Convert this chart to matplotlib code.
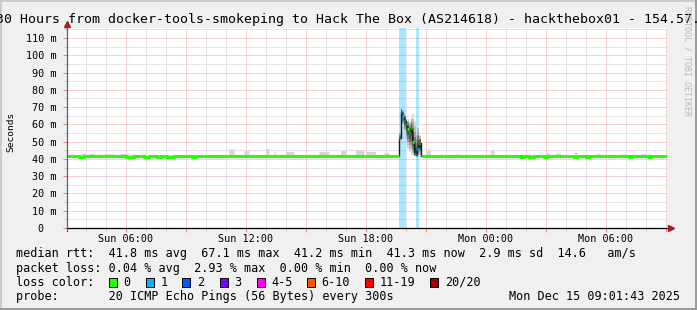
import numpy as np
import matplotlib

matplotlib.use('Agg')
import matplotlib.pyplot as plt
from matplotlib.patches import Rectangle
from matplotlib.ticker import MultipleLocator, FuncFormatter
from matplotlib.transforms import ScaledTranslation

MONO = 'DejaVu Sans Mono'
W, H = 697, 310

# Time axis: hours counted from Sun 00:00, one sample every 5 minutes
STEP = 5 / 60
FIRST_SAMPLE = 3.0
N_SAMPLES = 362
VIEW = (3.07, 33.07)

# Median rtt (ms) outside the incident, and the thin smoke band around it
baseline_rtt = 41.5
baseline_smoke_lo = 41.1
baseline_smoke_hi = 42.6

# Short dips of the median rtt
dip_start = [3.65, 6.0, 6.85, 7.55, 8.05, 9.3, 25.75, 26.15, 26.9, 28.4, 28.95, 31.1, 32.1]
dip_end = [3.9, 6.35, 7.1, 7.7, 8.4, 9.45, 25.9, 26.4, 27.05, 28.55, 29.1, 31.2, 32.2]
dip_rtt = [40.9, 40.9, 40.9, 40.9, 40.9, 40.9, 40.9, 40.9, 40.9, 40.9, 40.9, 40.9, 40.9]

# Smoke peaks above the median (slowest ping in those periods)
peak_start = [3.75, 4.15, 4.6, 4.85, 5.75, 11.15, 11.9, 13.0, 13.35, 14.0, 15.65, 16.75,
              17.5, 18.0, 18.9, 21.0, 22.5, 24.25, 27.0, 27.5, 28.35, 29.5, 30.75, 31.75]
peak_end = [4.0, 4.35, 4.75, 5.4, 6.15, 11.35, 12.1, 13.15, 13.5, 14.35, 16.1, 17.0,
            17.85, 18.5, 19.15, 21.25, 22.6, 24.4, 27.15, 27.75, 28.55, 29.75, 31.0, 32.0]
peak_top = [43.4, 43.2, 42.9, 43.0, 43.2, 45.7, 44.8, 46.0, 44.0, 44.2, 44.3, 44.8,
            45.3, 44.3, 43.8, 45.0, 42.9, 45.0, 43.6, 43.4, 43.9, 43.0, 42.9, 43.0]

# Incident on Sunday evening, 5 minute samples starting at 19:35
spike_start = 19 + 35 / 60
spike_rtt = [41.5, 52.0, 67.1, 65.0, 62.0, 60.0, 57.5, 55.5, 58.0, 50.0, 43.0, 42.0, 46.0, 49.0, 41.5]
spike_loss = [0, 1, 1, 1, 1, 0, 0, 0, 0, 0, 0, 1, 1, 0, 0]
spike_lo = [41.2, 50.0, 63.0, 59.0, 55.0, 50.0, 46.0, 44.0, 43.0, 42.0, 41.5, 41.2, 41.2, 41.2, 41.2]
spike_hi = [42.5, 56.0, 70.0, 69.0, 66.0, 64.0, 63.0, 62.0, 64.0, 66.0, 62.0, 56.0, 60.0, 54.0, 43.0]

loss_labels = ['0', '1', '2', '3', '4-5', '6-10', '11-19', '20/20']
loss_colors = ['#26ff00', '#00b8ff', '#0059ff', '#7e00ff', '#ff00ff', '#ff5500', '#ff0000', '#a10000']

median_line = 'median rtt:  41.8 ms avg  67.1 ms max  41.2 ms min  41.3 ms now  2.9 ms sd  14.6   am/s'
loss_line = 'packet loss: 0.04 % avg  2.93 % max  0.00 % min  0.00 % now'
probe_line = 'probe:       20 ICMP Echo Pings (56 Bytes) every 300s'
stamp = 'Mon Dec 15 09:01:43 2025'
title = '30 Hours from docker-tools-smokeping to Hack The Box (AS214618) - hackthebox01 - 154.57.'

# ---- build the 5 minute series ----
t = FIRST_SAMPLE + STEP * np.arange(N_SAMPLES)
median = np.full(N_SAMPLES, baseline_rtt)
loss = np.zeros(N_SAMPLES, dtype=int)
smoke_lo = np.full(N_SAMPLES, baseline_smoke_lo)
smoke_hi = np.full(N_SAMPLES, baseline_smoke_hi)

for s, e, v in zip(dip_start, dip_end, dip_rtt):
    median[(t >= s - 1e-6) & (t < e - 1e-6)] = v
for s, e, v in zip(peak_start, peak_end, peak_top):
    smoke_hi[(t >= s - 1e-6) & (t < e - 1e-6)] = v

i0 = int(round((spike_start - FIRST_SAMPLE) / STEP))
sl = slice(i0, i0 + len(spike_rtt))
median[sl] = spike_rtt
loss[sl] = spike_loss
smoke_lo[sl] = baseline_rtt
smoke_hi[sl] = baseline_rtt

edges = np.append(t, t[-1] + STEP)


def close(a):
    return np.append(a, a[-1])


# ---- figure ----
fig = plt.figure(figsize=(W / 100, H / 100), dpi=100)
fig.patch.set_facecolor('#f0f0f0')
ax = fig.add_axes([67 / W, 82 / H, 600 / W, 200 / H])
ax.set_facecolor('white')
ax.set_xlim(*VIEW)
ax.set_ylim(0, 115.8)
for sp in ax.spines.values():
    sp.set_visible(False)

# grid: hours / 5 ms grey, 3 hours / 10 ms red
ax.xaxis.set_major_locator(MultipleLocator(3))
ax.xaxis.set_minor_locator(MultipleLocator(1))
ax.yaxis.set_major_locator(MultipleLocator(10))
ax.yaxis.set_minor_locator(MultipleLocator(5))
ax.grid(which='minor', color='#cfcfcf', linestyle=(0, (1, 1)), linewidth=0.72)
ax.grid(which='major', color='#eaa8a8', linestyle=(0, (1, 1)), linewidth=0.72)
ax.set_axisbelow(True)


def time_label(h, pos):
    hr = int(round(h))
    if hr % 6:
        return ''
    day = 'Sun' if hr < 24 else 'Mon'
    return '%s %02d:00' % (day, hr % 24)


ax.xaxis.set_major_formatter(FuncFormatter(time_label))
ax.yaxis.set_major_formatter(FuncFormatter(lambda v, p: '%d m' % v if v > 0 else '0'))
ax.tick_params(which='major', length=3, width=0.7, color='#e08080', direction='out', labelsize=7.3)
ax.tick_params(which='minor', length=2, width=0.7, color='#c0c0c0', direction='out')
ax.tick_params(axis='x', pad=1.5)
ax.tick_params(axis='y', pad=4.5)
for lab in ax.get_xticklabels() + ax.get_yticklabels():
    lab.set_family(MONO)

# the "0" label sits under the digits, not under the unit
for tk in ax.yaxis.get_major_ticks():
    if abs(tk.get_loc()) < 1e-9:
        tk.label1.set_transform(tk.label1.get_transform() + ScaledTranslation(-0.13, 0, fig.dpi_scale_trans))

# packet loss background
for i in np.where(loss > 0)[0]:
    ax.axvspan(t[i], t[i] + STEP, color=loss_colors[loss[i]], alpha=0.33, lw=0, zorder=1)

# light smoke outside the incident
ax.fill_between(edges, close(smoke_lo), close(smoke_hi), step='post', color='#d4d4d4', lw=0, zorder=2)

# layered smoke during the incident
ts = t[sl]
te = np.append(ts, ts[-1] + STEP)
s_med = np.array(spike_rtt)
s_lo = np.array(spike_lo)
s_hi = np.array(spike_hi)
greys = ['#dcdcdc', '#bdbdbd', '#9c9c9c', '#7a7a7a', '#585858', '#383838']
for k, g in enumerate(greys):
    f = k / len(greys)
    lo = s_lo + (s_med - s_lo) * f
    hi = s_hi - (s_hi - s_med) * f
    ax.fill_between(te, close(lo), close(hi), step='post', color=g, lw=0, zorder=3)

# median rtt: thin dark line, the calm part as a thick green line and
# the disturbed samples as short loss coloured marks
ax.step(edges, close(median), where='post', color='#1a1a1a', lw=1.0, zorder=4)
calm = (loss == 0) & (np.abs(median - baseline_rtt) < 1.5)
ax.step(edges, close(np.where(calm, median, np.nan)), where='post', color=loss_colors[0], lw=2.1,
        zorder=5, solid_joinstyle='miter', solid_capstyle='butt')
for c, col in enumerate(loss_colors):
    m = (loss == c) & ~calm
    if m.any():
        ax.hlines(median[m], t[m] + STEP * 0.1, t[m] + STEP * 0.9, colors=col, lw=2.4, zorder=5)

# axes with arrows
ax.plot([0, 1 + 4 / 600], [0, 0], transform=ax.transAxes, color='black', lw=0.9, clip_on=False, zorder=6)
ax.plot([0, 0], [-3 / 200, 1 + 4 / 200], transform=ax.transAxes, color='#606060', lw=0.9, clip_on=False, zorder=6)
ax.plot([1 + 4 / 600], [0], transform=ax.transAxes, marker='>', ms=4.5, color='#a02020', clip_on=False, zorder=7)
ax.plot([0], [1 + 4 / 200], transform=ax.transAxes, marker='^', ms=4.5, color='#a02020', clip_on=False, zorder=7)

# titles
fig.text(-4 / W, 1 - 19 / H, title, family=MONO, fontsize=9.5, ha='left', va='center')
fig.text(11 / W, 1 - 132 / H, 'Seconds', family=MONO, fontsize=6.8, rotation=90, ha='center', va='center')
fig.text(687 / W, 1 - 6 / H, 'RRDTOOL / TOBI OETIKER', family=MONO, fontsize=6, rotation=270,
         ha='center', va='top', color='#b8b8b8')

# legend block
LEG = 8.45
row_y = [254, 268.3, 282.3, 296.3]


def ftext(x, y, s, **kw):
    fig.text(x / W, 1 - y / H, s, family=MONO, fontsize=LEG, va='center', **kw)


ftext(16.4, row_y[0], median_line)
ftext(16.4, row_y[1], loss_line)
ftext(16.4, row_y[2], 'loss color:')
box_x = [108.9, 145.8, 182.2, 220.0, 256.9, 306.7, 365.3, 430.2]
for x, lab, col in zip(box_x, loss_labels, loss_colors):
    fig.add_artist(Rectangle((x / W, 1 - (row_y[2] + 4.2) / H), 8 / W, 8.4 / H,
                             transform=fig.transFigure, facecolor=col, edgecolor='black', lw=0.7))
    ftext(x + 14.5, row_y[2], lab)
ftext(16.4, row_y[3], probe_line)
ftext(680, row_y[3], stamp, ha='right')

# 3d frame of the canvas
fig.add_artist(plt.Line2D([0, 1], [1 - 0.5 / H, 1 - 0.5 / H], transform=fig.transFigure, color='#cbcbcb', lw=1.4))
fig.add_artist(plt.Line2D([0.5 / W, 0.5 / W], [0, 1], transform=fig.transFigure, color='#cbcbcb', lw=1.4))
fig.add_artist(plt.Line2D([0, 1], [1 / H, 1 / H], transform=fig.transFigure, color='#999999', lw=1.4))
fig.add_artist(plt.Line2D([1 - 1 / W, 1 - 1 / W], [0, 1], transform=fig.transFigure, color='#999999', lw=1.4))

fig.savefig('out.png', dpi=100, facecolor=fig.get_facecolor())
